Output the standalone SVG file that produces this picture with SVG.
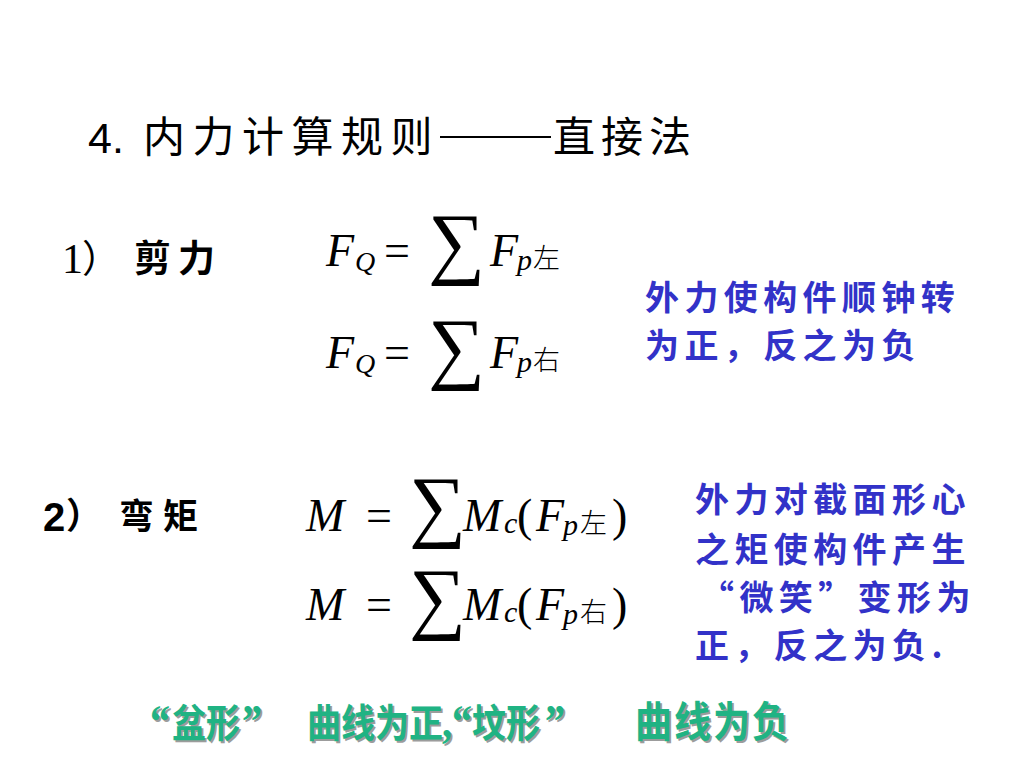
<svg xmlns="http://www.w3.org/2000/svg" width="1024" height="768" viewBox="0 0 1024 768">
<style>
.cjk{font-family:"Noto Sans CJK SC","Noto Sans CJK JP",sans-serif}
.m{font-family:"Liberation Serif","DejaVu Serif",serif;fill:#000}
.mi{font-family:"Liberation Serif","DejaVu Serif",serif;font-style:italic;fill:#000}
.sub{font-family:"Noto Sans CJK SC",sans-serif;font-size:27px;font-weight:300;fill:#000}
.blue{font-family:"Noto Sans CJK SC",sans-serif;font-size:34px;fill:#3232c8;font-weight:700;letter-spacing:5.4px}
.gr{font-size:34px;font-weight:700}
.gr .q{font-family:"Liberation Serif",serif;font-size:40px}
.gr .c{font-family:"Noto Sans CJK SC",sans-serif}
.gr .w{font-family:"Noto Sans CJK SC",sans-serif;font-size:37px;letter-spacing:2px}
.green{fill:#20b383}
.shadow{fill:#9c9c9c}
</style>
<defs>
<g id="rule-text">
<text class="gr" transform="translate(0,737) scale(1,1.15) translate(0,-737)"><tspan class="q" x="150" y="737">“</tspan><tspan class="c" x="172" y="737">盆形</tspan><tspan class="q" x="242" y="737">”</tspan><tspan class="c" x="307" y="737">曲线为正</tspan><tspan class="q" x="442" y="737">,</tspan><tspan class="q" x="452" y="737">“</tspan><tspan class="c" x="472" y="737">坟形</tspan><tspan class="q" x="545" y="737">”</tspan><tspan class="w" x="635" y="737">曲线为负</tspan></text>
</g>
</defs>
<rect width="1024" height="768" fill="#ffffff"/>
<g id="title">
<text x="88" y="153" font-family="Liberation Sans,sans-serif" font-size="43">4.</text>
<text x="143" y="152" class="cjk" font-size="42" letter-spacing="7.5">内力计算规则</text>
<line x1="440" y1="137" x2="551" y2="137" stroke="#000" stroke-width="2"/>
<text x="553" y="152" class="cjk" font-size="42" letter-spacing="6">直接法</text>
</g>
<g id="shear">
<text x="62" y="273" class="m" font-size="42">1</text>
<text x="82" y="272" class="cjk" font-size="38">）</text>
<text x="134" y="272" class="cjk" font-size="37" font-weight="700" letter-spacing="7">剪力</text>
<text x="326" y="266" class="mi" font-size="46">F</text>
<text x="355" y="271" class="mi" font-size="28">Q</text>
<text x="384" y="266" class="m" font-size="46">=</text>
<text x="428" y="269" class="m" font-size="80">∑</text>
<text x="490" y="266" class="mi" font-size="46">F</text>
<text x="517" y="270" class="mi" font-size="30">p</text>
<text x="533" y="268" class="sub">左</text>
<text x="326" y="368" class="mi" font-size="46">F</text>
<text x="355" y="373" class="mi" font-size="28">Q</text>
<text x="384" y="368" class="m" font-size="46">=</text>
<text x="428" y="374" class="m" font-size="80">∑</text>
<text x="490" y="368" class="mi" font-size="46">F</text>
<text x="517" y="372" class="mi" font-size="30">p</text>
<text x="533" y="370" class="sub">右</text>
</g>
<g id="shear-note">
<text x="645" y="310" class="blue">外力使构件顺钟转</text>
<text x="645" y="358" class="blue">为正，反之为负</text>
</g>
<g id="moment">
<text x="43" y="531" font-family="Liberation Sans,sans-serif" font-weight="700" font-size="40">2</text>
<text x="66" y="529" class="cjk" font-size="36" font-weight="700">）</text>
<text x="119" y="529" class="cjk" font-size="35" font-weight="700" letter-spacing="9">弯矩</text>
<text x="306" y="531" class="mi" font-size="46">M</text>
<text x="366" y="531" class="m" font-size="46">=</text>
<text x="409" y="532" class="m" font-size="80">∑</text>
<text x="463" y="531" class="mi" font-size="46">M</text>
<text x="504" y="533" class="mi" font-size="30">c</text>
<text x="517" y="531" class="m" font-size="46">(</text>
<text x="536" y="531" class="mi" font-size="46">F</text>
<text x="563" y="535" class="mi" font-size="30">p</text>
<text x="580" y="533" class="sub">左</text>
<text x="612" y="531" class="m" font-size="46">)</text>
<text x="306" y="620" class="mi" font-size="46">M</text>
<text x="366" y="620" class="m" font-size="46">=</text>
<text x="409" y="624" class="m" font-size="80">∑</text>
<text x="463" y="620" class="mi" font-size="46">M</text>
<text x="504" y="622" class="mi" font-size="30">c</text>
<text x="517" y="620" class="m" font-size="46">(</text>
<text x="536" y="620" class="mi" font-size="46">F</text>
<text x="563" y="624" class="mi" font-size="30">p</text>
<text x="580" y="622" class="sub">右</text>
<text x="612" y="620" class="m" font-size="46">)</text>
</g>
<g id="moment-note">
<text x="695" y="512" class="blue">外力对截面形心</text>
<text x="695" y="562" class="blue">之矩使构件产生</text>
<text x="700" y="610" class="blue">“微笑”变形为</text>
<text x="695" y="658" class="blue">正，反之为负.</text>
</g>
<g id="curve-rule">
<use href="#rule-text" class="shadow" x="2" y="2"/>
<use href="#rule-text" class="green"/>
</g>
</svg>
